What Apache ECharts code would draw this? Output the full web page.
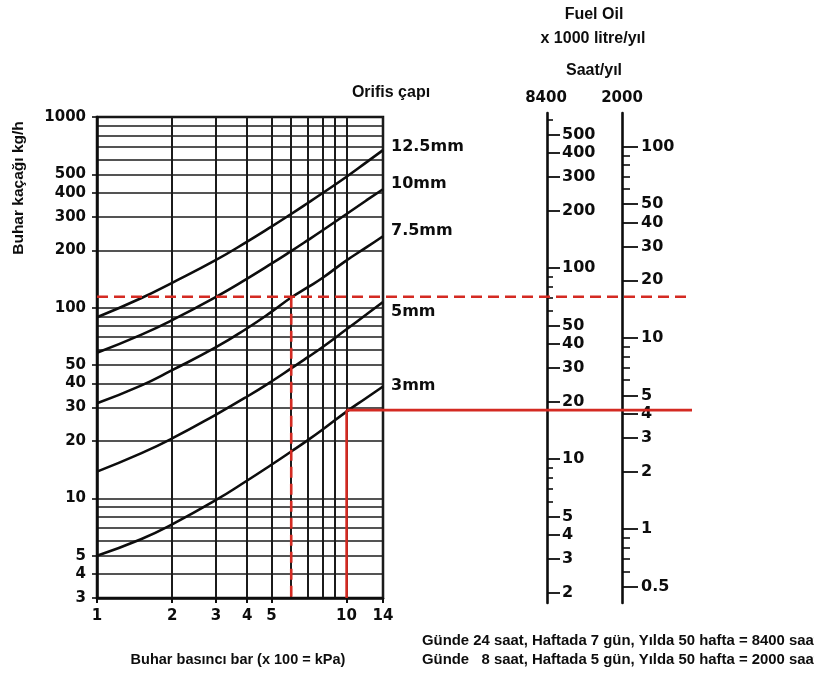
<!DOCTYPE html>
<html><head><meta charset="utf-8">
<script src="https://cdn.jsdelivr.net/npm/echarts@6/dist/echarts.min.js"></script>
<style>html,body{margin:0;padding:0;background:#fff}#c{width:814px;height:677px}</style>
</head><body><div id="c"></div>
<script>
// ---- data ----
const pressureBar = [1, 1.5, 2, 3, 4, 5, 6, 7, 8, 10, 12, 14];
const orifice125 = [89, 112, 135, 178, 222, 266, 310, 354, 398, 486, 578, 670];
const orifice10  = [58, 72, 86, 114, 142, 170, 198, 226, 254, 310, 365, 418];
const orifice75  = [31.5, 39, 47, 62, 78, 95, 113, 128, 143, 177, 207, 237];
const orifice5   = [13.8, 17.2, 20.6, 27.5, 34.2, 41, 48, 55, 62, 77, 92, 107];
const orifice3   = [5.0, 6.1, 7.3, 9.8, 12.4, 15.0, 17.6, 20.2, 22.9, 28.5, 33.6, 38.6];
const orificeNames = ['12.5mm', '10mm', '7.5mm', '5mm', '3mm'];

const pressureRange = [1, 14];
const pressureGridValues = [1, 2, 3, 4, 5, 6, 7, 8, 9, 10, 14];
const pressureTickLabels = [1, 2, 3, 4, 5, 10, 14];
const flowRange = [3, 1000];
const flowGridValues = [3, 4, 5, 6, 7, 8, 9, 10, 20, 30, 40, 50, 60, 70, 80, 90, 100, 200, 300, 400, 500, 600, 700, 800, 900, 1000];
const flowTickLabels = [3, 4, 5, 10, 20, 30, 40, 50, 100, 200, 300, 400, 500, 1000];

const fuel8400Range = [1.76, 648];
const fuel8400Labels = [2, 3, 4, 5, 10, 20, 30, 40, 50, 100, 200, 300, 400, 500];
const fuel8400Minor = [6, 7, 8, 9, 60, 70, 80, 90, 600];
const fuel2000Range = [0.41, 150];
const fuel2000Labels = [0.5, 1, 2, 3, 4, 5, 10, 20, 30, 40, 50, 100];
const fuel2000Minor = [0.6, 0.7, 0.8, 0.9, 6, 7, 8, 9, 60, 70, 80, 90];

// worked examples (pressure bar, steam loss kg/h)
const exampleDashed = [6, 114];
const exampleSolid = [10, 29];
// the read-out lines run across the fuel scales, to this point of the extended pressure scale
const readoutEnd = 242;

// ---- chart ----
const chart = echarts.init(document.getElementById('c'));
const INK = '#0d0d0d';
const NUM = 'DejaVu Sans';
const plain = (v) => String(v);

function curve(name, vals, off) {
  return {
    type: 'line', name: name, xAxisIndex: 0, yAxisIndex: 0,
    data: pressureBar.map((p, i) => [p, vals[i]]),
    smooth: 0.5, showSymbol: false, silent: true, z: 5,
    lineStyle: { color: INK, width: 2.6 },
    endLabel: { show: true, formatter: '{a}', color: INK, fontFamily: NUM, fontWeight: 'bold', fontSize: 16, distance: 8, offset: off }
  };
}
const RED = '#d42a22';
function redLine(pts, dashed) {
  return {
    type: 'line', xAxisIndex: 2, yAxisIndex: 2, data: pts, showSymbol: false, silent: true, z: 8,
    clip: false,
    lineStyle: { color: RED, width: 2.6, type: dashed ? [11, 6] : 'solid' }
  };
}

const gridLine = (w) => ({ show: true, lineStyle: { color: '#1b1b1b', width: w } });
const numLabel = (size, extra) => Object.assign({ color: INK, fontFamily: NUM, fontWeight: 'bold', fontSize: size, formatter: plain }, extra);

const option = {
  animation: false,
  backgroundColor: '#fff',
  grid: [
    { left: 97, top: 117, width: 286, height: 481, show: true, borderColor: INK, borderWidth: 2.5, backgroundColor: 'transparent' },
    { left: 97, top: 117, width: 595, height: 481 },
    { left: 547, top: 113, width: 1, height: 490 },
    { left: 622, top: 113, width: 1, height: 490 }
  ],
  xAxis: [
    { gridIndex: 0, type: 'log', min: pressureRange[0], max: pressureRange[1], position: 'bottom',
      axisLine: { show: true, lineStyle: { color: INK, width: 2.5 } },
      axisTick: { show: true, length: 5, customValues: pressureTickLabels, lineStyle: { color: INK, width: 2 } },
      axisLabel: numLabel(15, { customValues: pressureTickLabels, margin: 11 }),
      splitLine: { show: false }, minorTick: { show: false } },
    { gridIndex: 0, type: 'log', min: pressureRange[0], max: pressureRange[1], position: 'top',
      axisLine: { show: false }, axisLabel: { show: false },
      axisTick: { show: false, customValues: pressureGridValues },
      splitLine: gridLine(2) },
    { gridIndex: 1, type: 'log', min: pressureRange[0], max: readoutEnd, show: false },
    { gridIndex: 2, type: 'value', show: false },
    { gridIndex: 3, type: 'value', show: false }
  ],
  yAxis: [
    { gridIndex: 0, type: 'log', min: flowRange[0], max: flowRange[1], position: 'left',
      axisLine: { show: true, lineStyle: { color: INK, width: 2.5 } },
      axisTick: { show: true, length: 5, customValues: flowTickLabels, lineStyle: { color: INK, width: 1.6 } },
      axisLabel: numLabel(15, { customValues: flowTickLabels, margin: 11 }),
      splitLine: { show: false } },
    { gridIndex: 0, type: 'log', min: flowRange[0], max: flowRange[1], position: 'right',
      axisLine: { show: false }, axisLabel: { show: false },
      axisTick: { show: false, customValues: flowGridValues },
      splitLine: gridLine(1.6) },
    { gridIndex: 1, type: 'log', min: flowRange[0], max: flowRange[1], show: false },
    // 8400 h/yr scale
    { gridIndex: 2, type: 'log', min: fuel8400Range[0], max: fuel8400Range[1], position: 'left',
      axisLine: { show: true, lineStyle: { color: INK, width: 2.6 } },
      axisTick: { show: true, inside: true, length: 13, customValues: fuel8400Labels, lineStyle: { color: INK, width: 1.8 } },
      axisLabel: numLabel(16, { inside: true, margin: 15, customValues: fuel8400Labels }),
      splitLine: { show: false } },
    { gridIndex: 2, type: 'log', min: fuel8400Range[0], max: fuel8400Range[1], position: 'left',
      axisLine: { show: false }, axisLabel: { show: false },
      axisTick: { show: true, inside: true, length: 6, customValues: fuel8400Minor, lineStyle: { color: INK, width: 1.6 } },
      splitLine: { show: false } },
    // 2000 h/yr scale
    { gridIndex: 3, type: 'log', min: fuel2000Range[0], max: fuel2000Range[1], position: 'left',
      axisLine: { show: true, lineStyle: { color: INK, width: 2.6 } },
      axisTick: { show: true, inside: true, length: 16, customValues: fuel2000Labels, lineStyle: { color: INK, width: 1.8 } },
      axisLabel: numLabel(16, { inside: true, margin: 19, customValues: fuel2000Labels }),
      splitLine: { show: false } },
    { gridIndex: 3, type: 'log', min: fuel2000Range[0], max: fuel2000Range[1], position: 'left',
      axisLine: { show: false }, axisLabel: { show: false },
      axisTick: { show: true, inside: true, length: 8, customValues: fuel2000Minor, lineStyle: { color: INK, width: 1.6 } },
      splitLine: { show: false } }
  ],
  series: [
    curve(orificeNames[0], orifice125, [0, -3]),
    curve(orificeNames[1], orifice10, [0, -5]),
    curve(orificeNames[2], orifice75, [0, -5]),
    curve(orificeNames[3], orifice5, [0, 10]),
    curve(orificeNames[4], orifice3, [0, -1]),
    redLine([[pressureRange[0], exampleDashed[1]], [readoutEnd, exampleDashed[1]]], true),
    redLine([[exampleDashed[0], exampleDashed[1]], [exampleDashed[0], flowRange[0]]], true),
    redLine([[exampleSolid[0], exampleSolid[1]], [readoutEnd, exampleSolid[1]]], false),
    redLine([[exampleSolid[0], exampleSolid[1]], [exampleSolid[0], flowRange[0]]], false)
  ],
  graphic: [
    { type: 'text', x: 19, y: 188, rotation: Math.PI / 2, style: { text: 'Buhar kaçağı kg/h', font: 'bold 15.5px "Liberation Sans"', fill: INK, align: 'center', verticalAlign: 'middle' } },
    { type: 'text', x: 238, y: 660, style: { text: 'Buhar basıncı bar (x 100 = kPa)', font: 'bold 14.5px "Liberation Sans"', fill: INK, align: 'center', verticalAlign: 'middle' } },
    { type: 'text', x: 391, y: 93, style: { text: 'Orifis çapı', font: 'bold 16px "Liberation Sans"', fill: INK, align: 'center', verticalAlign: 'middle' } },
    { type: 'text', x: 594, y: 15, style: { text: 'Fuel Oil', font: 'bold 16px "Liberation Sans"', fill: INK, align: 'center', verticalAlign: 'middle' } },
    { type: 'text', x: 593, y: 39, style: { text: 'x 1000 litre/yıl', font: 'bold 16px "Liberation Sans"', fill: INK, align: 'center', verticalAlign: 'middle' } },
    { type: 'text', x: 594, y: 71, style: { text: 'Saat/yıl', font: 'bold 16px "Liberation Sans"', fill: INK, align: 'center', verticalAlign: 'middle' } },
    { type: 'text', x: 546, y: 98, style: { text: '8400', font: 'bold 15px "DejaVu Sans"', fill: INK, align: 'center', verticalAlign: 'middle' } },
    { type: 'text', x: 622, y: 98, style: { text: '2000', font: 'bold 15px "DejaVu Sans"', fill: INK, align: 'center', verticalAlign: 'middle' } },
    { type: 'text', x: 422, y: 641, style: { text: 'Günde 24 saat, Haftada 7 gün, Yılda 50 hafta = 8400 saat', font: 'bold 14.9px "Liberation Sans"', fill: INK, align: 'left', verticalAlign: 'middle' } },
    { type: 'text', x: 422, y: 660, style: { text: 'Günde   8 saat, Haftada 5 gün, Yılda 50 hafta = 2000 saat', font: 'bold 14.9px "Liberation Sans"', fill: INK, align: 'left', verticalAlign: 'middle' } }
  ]
};
chart.setOption(option);
</script>
</body></html>
